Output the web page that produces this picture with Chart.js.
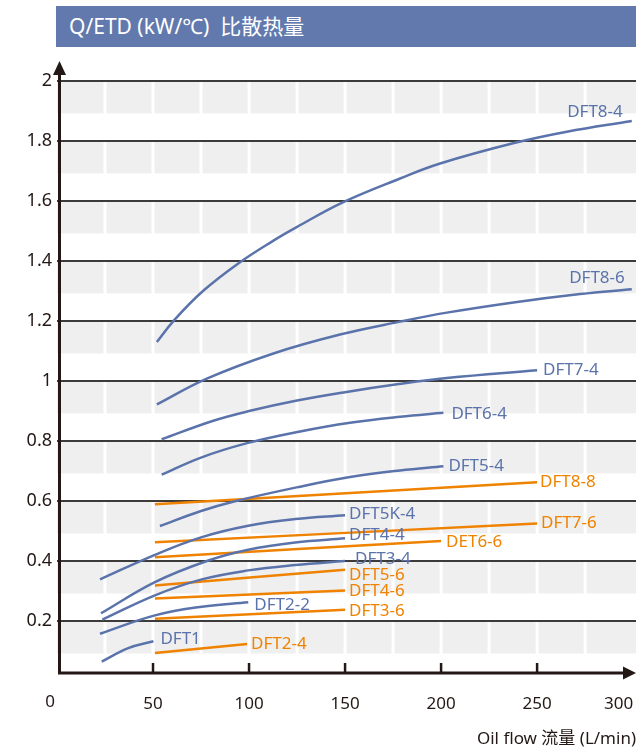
<!DOCTYPE html>
<html>
<head>
<meta charset="utf-8">
<script src="https://cdn.jsdelivr.net/npm/chart.js@4.4.1/dist/chart.umd.min.js"></script>
<style>
  html, body { margin: 0; padding: 0; background: #fff; }
  #wrap { position: relative; width: 636px; height: 751px; }
  #chart { position: absolute; left: 0; top: 0; }
  #title {
    position: absolute; left: 56px; top: 6px; width: 580px; height: 41px;
    box-sizing: border-box; padding-left: 13px;
    background: #6279ad; color: #fff;
    font: 21px "Noto Sans", "Noto Sans CJK SC", sans-serif; line-height: 41px;
  }
</style>
</head>
<body>
<div id="wrap">
  <canvas id="chart" width="636" height="751"></canvas>
  <div id="title">Q/ETD (kW/℃)&nbsp; 比散热量</div>
</div>
<script>
// ticks
const xTicks = [0, 25, 50, 75, 100, 125, 150, 175, 200, 225, 250, 275, 300];
const yTicks = [0.2, 0.4, 0.6, 0.8, 1, 1.2, 1.4, 1.6, 1.8, 2];

// series: [oil flow L/min, Q/ETD kW/℃]
const DFT8_4 = [[52, 1.13], [60.6, 1.2], [76, 1.3], [94.4, 1.392], [112.7, 1.468], [124.8, 1.513], [148.3, 1.594], [178.6, 1.675], [199.5, 1.725], [238.5, 1.794], [265.5, 1.831], [299.3, 1.867]];
const DFT8_6 = [[52, 0.922], [78, 1.008], [112.7, 1.092], [147.4, 1.155], [178.6, 1.198], [203, 1.228], [237.7, 1.262], [272.4, 1.29], [299.3, 1.306]];
const DFT7_4 = [[54.5, 0.806], [81, 0.867], [100, 0.9], [125, 0.935], [150, 0.963], [178, 0.99], [203, 1.01], [250, 1.036]];
const DFT6_4 = [[54.5, 0.688], [75, 0.745], [99, 0.793], [126.6, 0.832], [152.6, 0.861], [178.6, 0.881], [201.2, 0.894]];
const DFT5_4 = [[53.6, 0.517], [75, 0.567], [91.7, 0.598], [126.6, 0.648], [152.6, 0.68], [178.6, 0.702], [201.2, 0.716]];
const DFT5K_4 = [[22.4, 0.339], [51, 0.421], [75.4, 0.48], [99.6, 0.518], [124, 0.54], [150, 0.553]];
const DFT4_4 = [[22.9, 0.226], [51, 0.33], [78.8, 0.402], [99.6, 0.438], [124, 0.462], [150, 0.476]];
const DFT3_4 = [[23.6, 0.205], [51, 0.286], [75.4, 0.339], [99.6, 0.369], [124, 0.387], [150, 0.4]];
const DFT2_2 = [[22.4, 0.158], [51, 0.219], [75.4, 0.248], [99.6, 0.263]];
const DFT1 = [[23.3, 0.065], [37.1, 0.11], [50.2, 0.133]];

const DFT8_8 = [[51, 0.589], [250, 0.663]];
const DFT7_6 = [[51, 0.463], [250, 0.525]];
const DET6_6 = [[51, 0.413], [200, 0.467]];
const DFT5_6 = [[51, 0.319], [150, 0.371]];
const DFT4_6 = [[51, 0.275], [150, 0.302]];
const DFT3_6 = [[51, 0.208], [150, 0.238]];
const DFT2_4 = [[51, 0.094], [99, 0.124]];

const blue = '#5b73ab';
const orange = '#ef8200';
const ink = '#231815';
const font = '"Noto Sans", "Noto Sans CJK SC", sans-serif';

// label placement is relative to the last point of each line
const series = [
    { name: 'DFT8-4', points: DFT8_4, color: blue, dx: -9, dy: -9, align: 'right' },
    { name: 'DFT8-6', points: DFT8_6, color: blue, dx: -7, dy: -11, align: 'right' },
    { name: 'DFT7-4', points: DFT7_4, color: blue, dx: 6, dy: 0 },
    { name: 'DFT6-4', points: DFT6_4, color: blue, dx: 8, dy: 1 },
    { name: 'DFT5-4', points: DFT5_4, color: blue, dx: 5, dy: 0 },
    { name: 'DFT5K-4', points: DFT5K_4, color: blue, dx: 4, dy: -1 },
    { name: 'DFT4-4', points: DFT4_4, color: blue, dx: 4, dy: -3 },
    { name: 'DFT3-4', points: DFT3_4, color: blue, dx: 10, dy: -2 },
    { name: 'DFT2-2', points: DFT2_2, color: blue, dx: 6, dy: 3 },
    { name: 'DFT1', points: DFT1, color: blue, dx: 7, dy: -2 },
    { name: 'DFT8-8', points: DFT8_8, color: orange, dx: 3, dy: 0 },
    { name: 'DFT7-6', points: DFT7_6, color: orange, dx: 4, dy: 0 },
    { name: 'DET6-6', points: DET6_6, color: orange, dx: 5, dy: 1 },
    { name: 'DFT5-6', points: DFT5_6, color: orange, dx: 4, dy: 5 },
    { name: 'DFT4-6', points: DFT4_6, color: orange, dx: 4, dy: 1 },
    { name: 'DFT3-6', points: DFT3_6, color: orange, dx: 4, dy: 1 },
    { name: 'DFT2-4', points: DFT2_4, color: orange, dx: 4, dy: 0 }
];

// grey strip under every major line, split by thin white columns
const bandsPlugin = {
    id: 'bands',
    beforeDraw(chart) {
        const { ctx, chartArea, scales: { x, y } } = chart;
        ctx.save();
        ctx.fillStyle = '#efefef';
        yTicks.forEach(v => {
            const top = y.getPixelForValue(v);
            const bottom = y.getPixelForValue(v - 0.108);
            ctx.fillRect(chartArea.left, top, chartArea.right - chartArea.left, bottom - top);
        });
        ctx.strokeStyle = '#ffffff';
        ctx.lineWidth = 3;
        xTicks.forEach(v => {
            if (v === 0 || v === 300) return;
            const px = x.getPixelForValue(v);
            ctx.beginPath();
            ctx.moveTo(px, chartArea.top);
            ctx.lineTo(px, chartArea.bottom);
            ctx.stroke();
        });
        ctx.restore();
    }
};

const lineLabelsPlugin = {
    id: 'lineLabels',
    afterDatasetsDraw(chart) {
        const ctx = chart.ctx;
        ctx.save();
        ctx.font = '17px ' + font;
        ctx.textBaseline = 'middle';
        series.forEach((s, i) => {
            const pts = chart.getDatasetMeta(i).data;
            const end = pts[pts.length - 1];
            ctx.fillStyle = s.color;
            ctx.textAlign = s.align || 'left';
            ctx.fillText(s.name, end.x + s.dx, end.y + s.dy);
        });
        ctx.restore();
    }
};

const axesPlugin = {
    id: 'axes',
    afterDraw(chart) {
        const { ctx, chartArea, scales: { x } } = chart;
        const ax = chartArea.left + 2.5;
        const ay = chartArea.bottom;
        ctx.save();
        ctx.strokeStyle = ink;
        ctx.fillStyle = ink;
        ctx.lineWidth = 3;
        ctx.beginPath();
        ctx.moveTo(ax, ay + 1.5);
        ctx.lineTo(ax, 72);
        ctx.moveTo(chartArea.left + 1, ay);
        ctx.lineTo(626, ay);
        ctx.stroke();
        // arrow heads
        ctx.beginPath();
        ctx.moveTo(ax, 61);
        ctx.lineTo(ax - 6.5, 75);
        ctx.lineTo(ax + 6.5, 75);
        ctx.closePath();
        ctx.fill();
        ctx.beginPath();
        ctx.moveTo(636, ay);
        ctx.lineTo(623, ay - 6.5);
        ctx.lineTo(623, ay + 6.5);
        ctx.closePath();
        ctx.fill();
        // tick marks
        ctx.lineWidth = 2.5;
        xTicks.forEach(v => {
            if (v === 0 || v === 300 || v % 50 !== 0) return;
            const px = x.getPixelForValue(v);
            ctx.beginPath();
            ctx.moveTo(px, ay);
            ctx.lineTo(px, ay - 10);
            ctx.stroke();
        });
        // origin label
        ctx.font = '17px ' + font;
        ctx.textAlign = 'center';
        ctx.textBaseline = 'middle';
        ctx.fillText('0', 50, 702);
        ctx.restore();
    }
};

new Chart(document.getElementById('chart'), {
    type: 'line',
    data: {
        datasets: series.map(s => ({
            label: s.name,
            data: s.points.map(p => ({ x: p[0], y: p[1] })),
            borderColor: s.color,
            borderWidth: 2.5,
            pointRadius: 0,
            tension: 0.4,
            fill: false
        }))
    },
    options: {
        responsive: false,
        animation: false,
        devicePixelRatio: 1,
        layout: { padding: { top: 81, right: 0, bottom: 0, left: 0 } },
        plugins: {
            legend: { display: false },
            tooltip: { enabled: false }
        },
        scales: {
            x: {
                type: 'linear',
                min: 0,
                max: 301.5,
                afterBuildTicks: (scale) => { scale.ticks = xTicks.map(v => ({ value: v })); },
                afterFit: (scale) => { scale.height = 78; },
                // invisible tick marks only push the labels down
                grid: { display: true, drawOnChartArea: false, drawTicks: true, tickLength: 21, color: 'rgba(0,0,0,0)' },
                border: { display: false },
                ticks: {
                    autoSkip: false,
                    align: 'inner',
                    padding: 0,
                    color: ink,
                    font: { family: font, size: 17 },
                    callback: (v) => (v > 0 && v % 50 === 0) ? String(v) : ''
                },
                title: {
                    display: true,
                    text: 'Oil flow 流量 (L/min)',
                    align: 'end',
                    color: ink,
                    font: { family: font, size: 17 },
                    padding: { top: 0, bottom: 2 }
                }
            },
            y: {
                type: 'linear',
                min: 0.027,
                max: 2,
                afterBuildTicks: (scale) => { scale.ticks = yTicks.map(v => ({ value: v })); },
                afterFit: (scale) => { scale.width = 57; },
                grid: { color: '#3d3a3a', lineWidth: 2, drawTicks: false },
                border: { display: false },
                ticks: {
                    padding: 5,
                    color: ink,
                    font: { family: font, size: 18 },
                    callback: (v) => String(+v.toFixed(1))
                }
            }
        }
    },
    plugins: [bandsPlugin, lineLabelsPlugin, axesPlugin]
});
</script>
</body>
</html>
